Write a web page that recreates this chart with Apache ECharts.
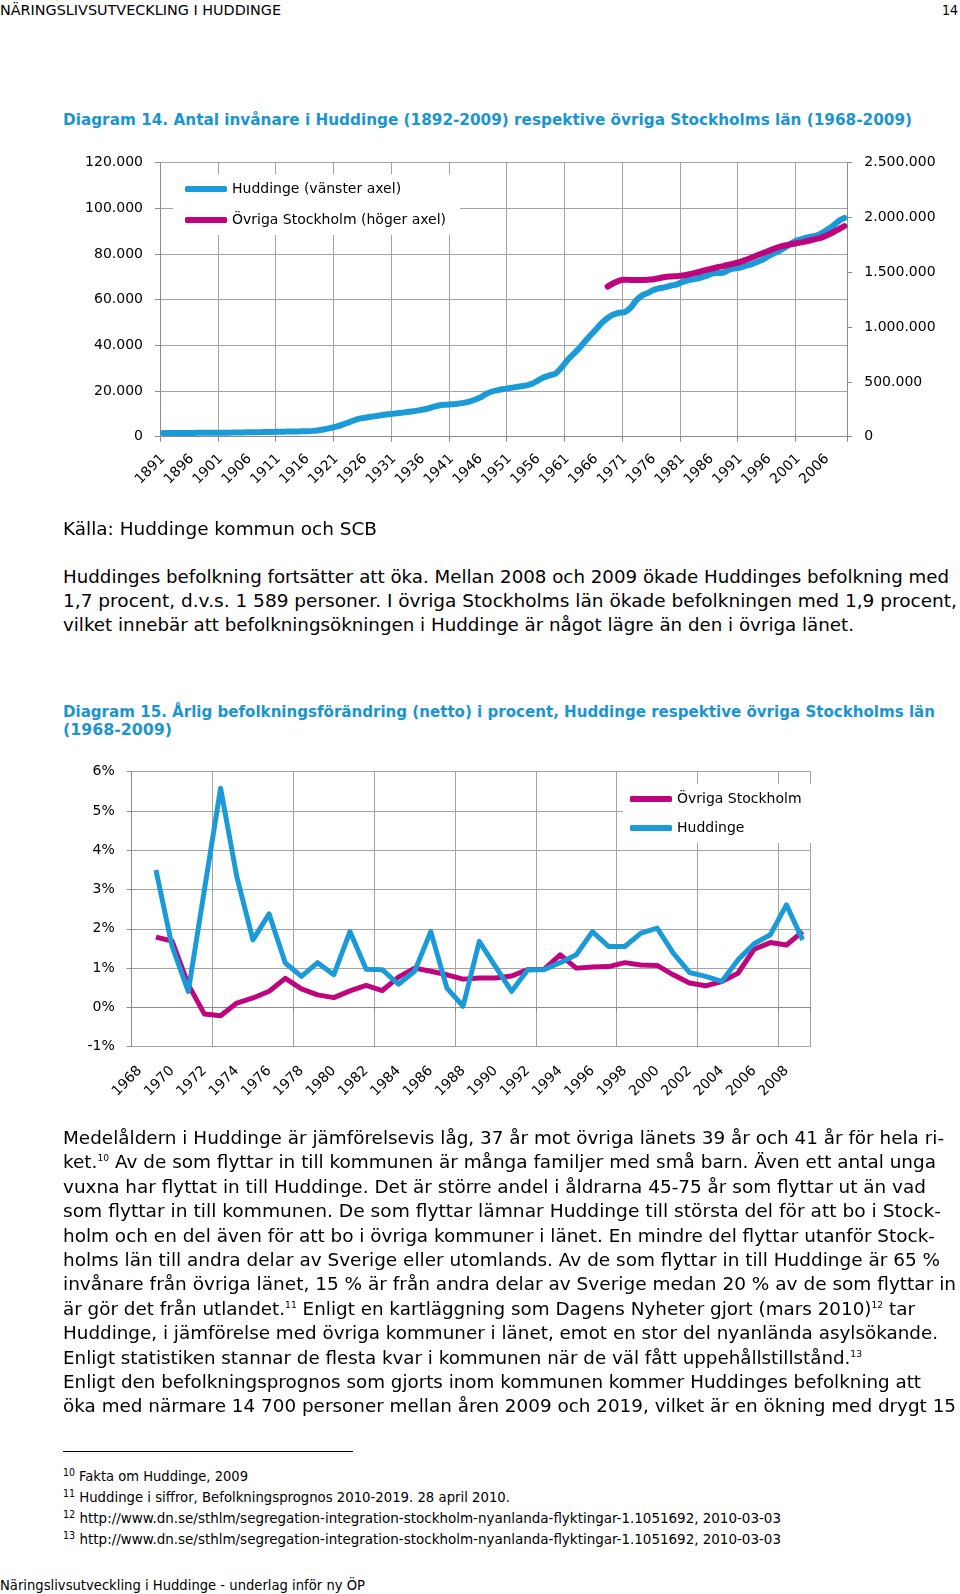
<!DOCTYPE html>
<html><head><meta charset="utf-8">
<script src="https://cdn.jsdelivr.net/npm/echarts@6/dist/echarts.min.js"></script>
<style>
html,body{margin:0;padding:0;background:#fff;}
body{width:960px;height:1594px;position:relative;overflow:hidden;font-family:'DejaVu Sans',Verdana,sans-serif;color:#000;}
.t{position:absolute;white-space:nowrap;line-height:20px;height:20px;transform-origin:0 50%;}
.b{font-size:18px;}
.h{font-family:'Liberation Sans Narrow','DejaVu Sans Condensed',sans-serif;font-size:14px;}
.ttl{font-weight:bold;font-size:15px;color:#1a95d0;}
.b sup{font-size:9px;vertical-align:baseline;position:relative;top:-7px;line-height:0;}
.h sup{font-size:10px;vertical-align:baseline;position:relative;top:-5px;line-height:0;}
.chart{position:absolute;left:0;width:960px;height:400px;}
.rule{position:absolute;left:63px;top:1451px;width:290px;height:0;border-top:1px solid #000;}
</style></head>
<body>
<div class="t h" style="left:0;top:0px;" data-w="281">NÄRINGSLIVSUTVECKLING I HUDDINGE</div>
<div class="t h" style="right:2px;top:0px;">14</div>

<div class="t ttl" style="left:63px;top:110px;" data-w="849">Diagram 14. Antal invånare i Huddinge (1892-2009) respektive övriga Stockholms län (1968-2009)</div>
<div id="c1" class="chart" style="top:140px;"></div>

<div class="t b" style="left:63px;top:519px;" data-w="314">Källa: Huddinge kommun och SCB</div>
<div class="t b" style="left:63px;top:567px;" data-w="886">Huddinges befolkning fortsätter att öka. Mellan 2008 och 2009 ökade Huddinges befolkning med</div>
<div class="t b" style="left:63px;top:591px;" data-w="894">1,7 procent, d.v.s. 1 589 personer. I övriga Stockholms län ökade befolkningen med 1,9 procent,</div>
<div class="t b" style="left:63px;top:615px;" data-w="791">vilket innebär att befolkningsökningen i Huddinge är något lägre än den i övriga länet.</div>

<div class="t ttl" style="left:63px;top:702px;" data-w="872">Diagram 15. Årlig befolkningsförändring (netto) i procent, Huddinge respektive övriga Stockholms län</div>
<div class="t ttl" style="left:63px;top:720px;" data-w="109">(1968-2009)</div>
<div id="c2" class="chart" style="top:740px;"></div>

<div class="t b" style="left:63px;top:1128px;" data-w="881">Medelåldern i Huddinge är jämförelsevis låg, 37 år mot övriga länets 39 år och 41 år för hela ri-</div>
<div class="t b" style="left:63px;top:1152px;" data-w="873">ket.<sup>10</sup> Av de som flyttar in till kommunen är många familjer med små barn. Även ett antal unga</div>
<div class="t b" style="left:63px;top:1177px;" data-w="863">vuxna har flyttat in till Huddinge. Det är större andel i åldrarna 45-75 år som flyttar ut än vad</div>
<div class="t b" style="left:63px;top:1201px;" data-w="878">som flyttar in till kommunen. De som flyttar lämnar Huddinge till största del för att bo i Stock-</div>
<div class="t b" style="left:63px;top:1226px;" data-w="872">holm och en del även för att bo i övriga kommuner i länet. En mindre del flyttar utanför Stock-</div>
<div class="t b" style="left:63px;top:1250px;" data-w="877">holms län till andra delar av Sverige eller utomlands. Av de som flyttar in till Huddinge är 65 %</div>
<div class="t b" style="left:63px;top:1274px;" data-w="893">invånare från övriga länet, 15 % är från andra delar av Sverige medan 20 % av de som flyttar in</div>
<div class="t b" style="left:63px;top:1299px;" data-w="852">är gör det från utlandet.<sup>11</sup> Enligt en kartläggning som Dagens Nyheter gjort (mars 2010)<sup>12</sup> tar</div>
<div class="t b" style="left:63px;top:1323px;" data-w="875">Huddinge, i jämförelse med övriga kommuner i länet, emot en stor del nyanlända asylsökande.</div>
<div class="t b" style="left:63px;top:1348px;" data-w="799">Enligt statistiken stannar de flesta kvar i kommunen när de väl fått uppehållstillstånd.<sup>13</sup></div>
<div class="t b" style="left:63px;top:1372px;" data-w="858">Enligt den befolkningsprognos som gjorts inom kommunen kommer Huddinges befolkning att</div>
<div class="t b" style="left:63px;top:1396px;" data-w="893">öka med närmare 14 700 personer mellan åren 2009 och 2019, vilket är en ökning med drygt 15</div>

<div class="rule"></div>
<div class="t h" style="left:63px;top:1466px;" data-w="185"><sup>10</sup> Fakta om Huddinge, 2009</div>
<div class="t h" style="left:63px;top:1487px;" data-w="447"><sup>11</sup> Huddinge i siffror, Befolkningsprognos 2010-2019. 28 april 2010.</div>
<div class="t h" style="left:63px;top:1508px;" data-w="718"><sup>12</sup> http://www.dn.se/sthlm/segregation-integration-stockholm-nyanlanda-flyktingar-1.1051692, 2010-03-03</div>
<div class="t h" style="left:63px;top:1529px;" data-w="718"><sup>13</sup> http://www.dn.se/sthlm/segregation-integration-stockholm-nyanlanda-flyktingar-1.1051692, 2010-03-03</div>
<div class="t h" style="left:0;top:1575px;" data-w="365">Näringslivsutveckling i Huddinge - underlag inför ny ÖP</div>

<script>
// ---------- Diagram 14 data ----------
const years1 = [];
for (let y = 1891; y <= 2009; y++) years1.push(String(y));

const huddingePop = [
  1600,1600,1620,1640,1650,1660,1680,1700,1700,1720,
  1740,1760,1800,1840,1880,1920,1960,2000,2050,2100,
  2150,2200,2250,2300,2350,2400,2550,2850,3250,3800,
  4400,5200,6100,7100,7900,8300,8700,9100,9500,9800,
  10100,10400,10700,11000,11400,11900,12400,13200,13800,14000,
  14200,14400,14800,15400,16200,17200,18800,19800,20400,20900,
  21300,21700,22100,22500,23300,24700,26000,26900,27700,30200,
  33400,36000,38500,41500,44300,47000,49800,52000,53500,54300,
  54600,56500,59800,61900,63000,64300,65000,65500,66200,66700,
  67800,68500,69000,69600,70300,71400,71700,71800,73000,73700,
  74100,74900,75600,76600,77800,79300,80500,81700,83300,85000,
  86100,86900,87500,88000,89000,90600,92300,94500,95800
];

const ovrigaStart = 1968;
const ovrigaPop = [
  1370000,1400000,1425000,1432000,1430000,1429000,1430000,1433000,1437000,1448000,
  1458000,1462000,1465000,1470000,1480000,1492000,1505000,1520000,1533000,1546000,
  1557000,1570000,1582000,1596000,1615000,1635000,1658000,1678000,1698000,1718000,
  1736000,1748000,1758000,1768000,1778000,1790000,1803000,1816000,1838000,1863000,
  1892000,1922000
];

const leftTicks = [0, 20000, 40000, 60000, 80000, 100000, 120000];
const rightTicks = [0, 500000, 1000000, 1500000, 2000000, 2500000];

// ---------- Diagram 15 data ----------
const years2 = [];
for (let y = 1968; y <= 2009; y++) years2.push(String(y));

const ovrigaChange = [null,
  1.79,1.69,0.58,-0.17,-0.21,0.11,0.24,0.41,0.74,0.47,
  0.32,0.25,0.42,0.56,0.43,0.77,1.0,0.92,0.83,0.72,
  0.75,0.75,0.8,0.96,0.97,1.34,1.0,1.03,1.04,1.14,
  1.08,1.07,0.83,0.62,0.55,0.66,0.87,1.48,1.65,1.59,1.93];

const huddingeChange = [null,
  3.5,1.55,0.41,3.0,5.58,3.33,1.72,2.38,1.13,0.79,
  1.14,0.83,1.93,0.97,0.96,0.59,0.92,1.93,0.49,0.03,
  1.68,1.04,0.41,0.96,0.96,1.14,1.34,1.93,1.55,1.55,
  1.89,2.02,1.38,0.89,0.79,0.66,1.21,1.62,1.85,2.61,1.72];

const pctTicks = [-1, 0, 1, 2, 3, 4, 5, 6];

// ---------- styling ----------
const BLUE = '#1b9ad8';
const PINK = '#bf057d';
const GRID = '#a3a3a3';
const AXIS = '#8c8c8c';
const FONT = "'DejaVu Sans', Verdana, sans-serif";

function fmt(v) {
  return String(v).replace(/\B(?=(\d{3})+(?!\d))/g, '.');
}

const ovrigaSeries = years1.map(y => {
  const i = +y - ovrigaStart;
  return i >= 0 ? ovrigaPop[i] : null;
});

const c1 = echarts.init(document.getElementById('c1'));
c1.setOption({
  animation: false,
  grid: { left: 160, top: 22.7, width: 687.3, height: 274 },
  legend: {
    orient: 'vertical', left: 173, top: 34,
    padding: [8, 14, 8, 12], itemGap: 17,
    itemWidth: 42, itemHeight: 6, icon: 'roundRect',
    backgroundColor: '#fff',
    textStyle: { fontSize: 14, color: '#000', fontFamily: FONT },
    data: ['Huddinge (vänster axel)', 'Övriga Stockholm (höger axel)']
  },
  xAxis: {
    type: 'category', data: years1, boundaryGap: true,
    axisLine: { lineStyle: { color: AXIS } },
    axisTick: { show: true, interval: 9, length: 5, lineStyle: { color: AXIS } },
    axisLabel: { interval: 4, rotate: 45, margin: 20, fontSize: 14, color: '#000', fontFamily: FONT },
    splitLine: { show: true, interval: 9, lineStyle: { color: GRID, width: 1 } }
  },
  yAxis: [{
    type: 'value', position: 'left',
    min: leftTicks[0], max: leftTicks[leftTicks.length - 1], interval: leftTicks[1] - leftTicks[0],
    axisLine: { show: true, lineStyle: { color: AXIS } },
    axisTick: { show: true, length: 5, lineStyle: { color: AXIS } },
    axisLabel: { formatter: fmt, margin: 17, fontSize: 14, color: '#000', fontFamily: FONT },
    splitLine: { show: true, lineStyle: { color: GRID, width: 1 } }
  }, {
    type: 'value', position: 'right',
    min: rightTicks[0], max: rightTicks[rightTicks.length - 1], interval: rightTicks[1] - rightTicks[0],
    axisLine: { show: true, lineStyle: { color: AXIS } },
    axisTick: { show: true, length: 5, lineStyle: { color: AXIS } },
    axisLabel: { formatter: fmt, margin: 17, fontSize: 14, color: '#000', fontFamily: FONT },
    splitLine: { show: false }
  }],
  series: [{
    name: 'Huddinge (vänster axel)', type: 'line', yAxisIndex: 0,
    data: huddingePop, smooth: 0.3, showSymbol: false, symbol: 'none',
    itemStyle: { color: BLUE },
    lineStyle: { color: BLUE, width: 6, cap: 'round', join: 'round' }
  }, {
    name: 'Övriga Stockholm (höger axel)', type: 'line', yAxisIndex: 1,
    data: ovrigaSeries, smooth: 0.3, showSymbol: false, symbol: 'none',
    itemStyle: { color: PINK },
    lineStyle: { color: PINK, width: 6, cap: 'round', join: 'round' }
  }]
});

const c2 = echarts.init(document.getElementById('c2'));
c2.setOption({
  animation: false,
  grid: { left: 131.7, top: 31.7, width: 679, height: 275 },
  legend: {
    orient: 'vertical', left: 623, top: 44,
    padding: [8, 10, 8, 7], itemGap: 15,
    itemWidth: 42, itemHeight: 6, icon: 'roundRect',
    backgroundColor: '#fff',
    textStyle: { fontSize: 14, color: '#000', fontFamily: FONT },
    data: ['Övriga Stockholm', 'Huddinge']
  },
  xAxis: {
    type: 'category', data: years2, boundaryGap: true,
    axisLine: { lineStyle: { color: AXIS } },
    axisTick: { show: true, interval: 4, length: 5, lineStyle: { color: AXIS } },
    axisLabel: { interval: 1, rotate: 45, margin: 22, fontSize: 14, color: '#000', fontFamily: FONT },
    splitLine: { show: true, interval: 4, lineStyle: { color: GRID, width: 1 } }
  },
  yAxis: {
    type: 'value',
    min: pctTicks[0], max: pctTicks[pctTicks.length - 1], interval: pctTicks[1] - pctTicks[0],
    axisLine: { show: true, lineStyle: { color: AXIS } },
    axisTick: { show: true, length: 5, lineStyle: { color: AXIS } },
    axisLabel: { formatter: '{value}%', margin: 17, fontSize: 14, color: '#000', fontFamily: FONT },
    splitLine: { show: true, lineStyle: { color: GRID, width: 1 } }
  },
  series: [{
    name: 'Övriga Stockholm', type: 'line', data: ovrigaChange,
    showSymbol: false, symbol: 'none', connectNulls: false,
    itemStyle: { color: PINK },
    lineStyle: { color: PINK, width: 5, join: 'round' }
  }, {
    name: 'Huddinge', type: 'line', data: huddingeChange,
    showSymbol: false, symbol: 'none', connectNulls: false,
    itemStyle: { color: BLUE },
    lineStyle: { color: BLUE, width: 5, join: 'round' }
  }]
});

// fit single text lines to the measured widths of the original page
document.querySelectorAll('.t[data-w]').forEach(el => {
  const w = el.getBoundingClientRect().width;
  const target = +el.dataset.w;
  if (w > 0) el.style.transform = 'scaleX(' + (target / w).toFixed(4) + ')';
});
</script>
</body></html>
